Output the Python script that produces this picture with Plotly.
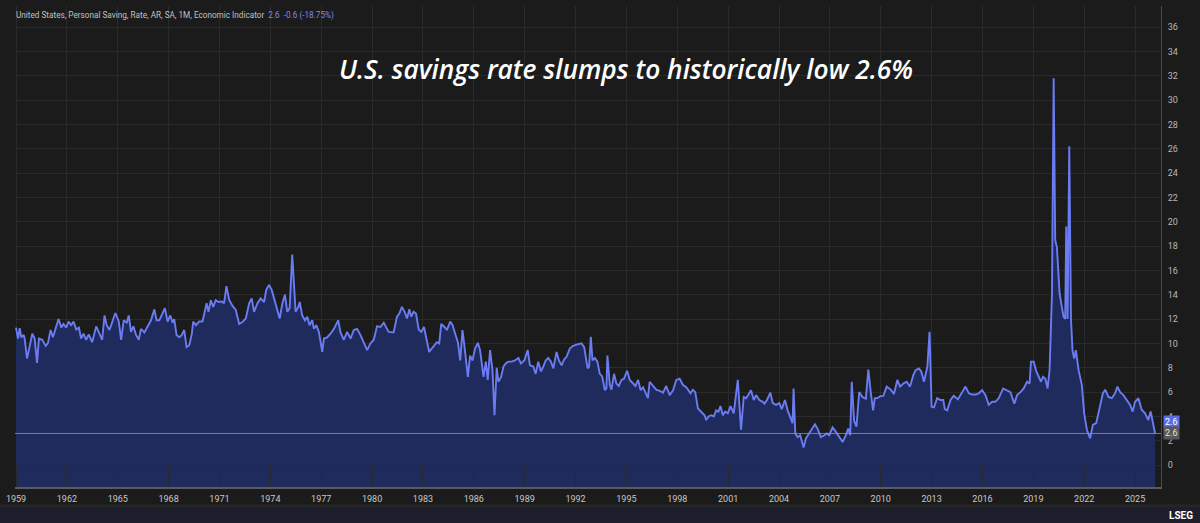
import plotly.graph_objects as go

# personal saving rate (decimal year, percent)
years = [
    1959.00, 1959.12, 1959.22, 1959.31, 1959.45, 1959.51, 1959.65, 1959.80, 1959.96, 1960.10,
    1960.24, 1960.35, 1960.55, 1960.75, 1960.88, 1961.04, 1961.18, 1961.33, 1961.51, 1961.67,
    1961.80, 1961.96, 1962.10, 1962.25, 1962.39, 1962.55, 1962.71, 1962.84, 1962.98, 1963.14,
    1963.29, 1963.49, 1963.73, 1963.92, 1964.08, 1964.22, 1964.35, 1964.51, 1964.71, 1964.86,
    1965.06, 1965.20, 1965.35, 1965.53, 1965.65, 1965.78, 1965.92, 1966.08, 1966.24, 1966.37,
    1966.57, 1966.76, 1966.96, 1967.16, 1967.29, 1967.45, 1967.61, 1967.78, 1967.94, 1968.10,
    1968.24, 1968.33, 1968.47, 1968.63, 1968.78, 1968.92, 1969.06, 1969.22, 1969.37, 1969.45,
    1969.61, 1969.80, 1970.00, 1970.24, 1970.35, 1970.49, 1970.63, 1970.78, 1970.94, 1971.14,
    1971.27, 1971.41, 1971.57, 1971.76, 1971.96, 1972.16, 1972.35, 1972.55, 1972.75, 1972.90,
    1973.04, 1973.24, 1973.43, 1973.63, 1973.76, 1973.92, 1974.08, 1974.22, 1974.41, 1974.55,
    1974.71, 1974.86, 1975.00, 1975.14, 1975.29, 1975.39, 1975.49, 1975.65, 1975.73, 1975.88,
    1976.04, 1976.18, 1976.31, 1976.47, 1976.57, 1976.71, 1976.86, 1977.06, 1977.16, 1977.35,
    1977.55, 1977.75, 1978.00, 1978.14, 1978.33, 1978.53, 1978.73, 1978.92, 1979.12, 1979.31,
    1979.51, 1979.71, 1979.90, 1980.10, 1980.29, 1980.49, 1980.69, 1980.98, 1981.27, 1981.47,
    1981.61, 1981.76, 1981.92, 1982.06, 1982.20, 1982.31, 1982.45, 1982.59, 1982.75, 1982.90,
    1983.06, 1983.24, 1983.37, 1983.53, 1983.69, 1983.82, 1983.96, 1984.08, 1984.27, 1984.41,
    1984.61, 1984.75, 1984.90, 1985.06, 1985.20, 1985.33, 1985.45, 1985.65, 1985.78, 1985.92,
    1986.08, 1986.24, 1986.37, 1986.57, 1986.71, 1986.82, 1986.96, 1987.10, 1987.22, 1987.35,
    1987.45, 1987.61, 1987.75, 1987.88, 1988.04, 1988.24, 1988.43, 1988.63, 1988.78, 1988.98,
    1989.18, 1989.31, 1989.51, 1989.65, 1989.80, 1989.96, 1990.10, 1990.24, 1990.39, 1990.55,
    1990.69, 1990.88, 1991.02, 1991.18, 1991.33, 1991.47, 1991.67, 1991.86, 1992.06, 1992.35,
    1992.51, 1992.71, 1992.80, 1992.90, 1993.00, 1993.14, 1993.29, 1993.43, 1993.57, 1993.73,
    1993.82, 1993.88, 1994.02, 1994.12, 1994.27, 1994.41, 1994.55, 1994.71, 1994.86, 1995.04,
    1995.20, 1995.35, 1995.53, 1995.69, 1995.84, 1995.98, 1996.12, 1996.27, 1996.37, 1996.57,
    1996.76, 1996.96, 1997.16, 1997.35, 1997.55, 1997.75, 1997.94, 1998.14, 1998.33, 1998.53,
    1998.78, 1998.92, 1999.06, 1999.22, 1999.41, 1999.61, 1999.71, 1999.84, 2000.00, 2000.16,
    2000.29, 2000.43, 2000.55, 2000.69, 2000.82, 2000.98, 2001.14, 2001.33, 2001.57, 2001.67,
    2001.76, 2001.92, 2002.06, 2002.20, 2002.35, 2002.51, 2002.65, 2002.84, 2003.04, 2003.14,
    2003.29, 2003.49, 2003.63, 2003.82, 2004.02, 2004.16, 2004.35, 2004.51, 2004.67, 2004.80,
    2004.86, 2004.96, 2005.10, 2005.25, 2005.33, 2005.45, 2005.59, 2005.78, 2005.98, 2006.12,
    2006.27, 2006.47, 2006.67, 2006.82, 2006.96, 2007.16, 2007.35, 2007.55, 2007.75, 2007.94,
    2008.08, 2008.20, 2008.29, 2008.43, 2008.57, 2008.73, 2008.92, 2009.12, 2009.27, 2009.41,
    2009.55, 2009.65, 2009.80, 2009.96, 2010.16, 2010.35, 2010.59, 2010.78, 2010.98, 2011.14,
    2011.33, 2011.53, 2011.73, 2011.92, 2012.06, 2012.25, 2012.39, 2012.55, 2012.75, 2012.88,
    2013.00, 2013.14, 2013.33, 2013.53, 2013.69, 2013.78, 2013.92, 2014.12, 2014.31, 2014.55,
    2014.71, 2015.00, 2015.20, 2015.39, 2015.59, 2015.78, 2015.98, 2016.18, 2016.37, 2016.57,
    2016.76, 2016.96, 2017.22, 2017.41, 2017.65, 2017.88, 2018.04, 2018.24, 2018.43, 2018.63,
    2018.78, 2018.86, 2019.02, 2019.18, 2019.31, 2019.45, 2019.57, 2019.71, 2019.84, 2019.96,
    2020.10, 2020.20, 2020.29, 2020.39, 2020.55, 2020.69, 2020.78, 2020.88, 2020.94, 2021.02,
    2021.12, 2021.22, 2021.31, 2021.41, 2021.51, 2021.67, 2021.86, 2022.00, 2022.16, 2022.35,
    2022.51, 2022.71, 2022.90, 2023.10, 2023.24, 2023.43, 2023.63, 2023.82, 2023.96, 2024.12,
    2024.31, 2024.51, 2024.71, 2024.86, 2025.00, 2025.20, 2025.39, 2025.59, 2025.78, 2025.92,
    2026.04, 2026.18,
]
rate = [
    11.3, 10.4, 11.25, 10.5, 10.7, 10.4, 8.75, 9.7, 10.8, 10.4,
    8.4, 10.4, 10.3, 9.8, 10.0, 11.1, 10.5, 11.2, 12.0, 11.3,
    11.6, 11.3, 11.8, 11.5, 11.8, 11.15, 11.3, 10.4, 10.8, 10.3,
    10.75, 10.1, 11.4, 10.8, 10.3, 12.3, 11.5, 11.1, 11.9, 12.5,
    11.8, 10.3, 11.9, 11.7, 12.3, 10.95, 11.4, 10.7, 10.3, 11.2,
    10.9, 11.4, 11.9, 12.8, 11.9, 11.9, 12.4, 12.9, 11.8, 12.3,
    11.7, 12.0, 10.7, 10.5, 10.7, 11.1, 9.7, 9.85, 10.8, 11.8,
    11.5, 11.8, 11.8, 13.3, 12.6, 13.55, 13.0, 13.55, 13.4, 13.45,
    13.3, 14.7, 13.6, 13.1, 12.75, 11.6, 11.75, 12.05, 13.3, 13.7,
    12.6, 13.3, 13.7, 13.4, 14.4, 14.8, 14.4, 13.7, 12.9, 12.05,
    13.3, 14.0, 12.6, 12.9, 17.3, 14.3, 12.6, 13.0, 13.4, 12.3,
    11.9, 12.2, 11.5, 11.9, 11.2, 11.5, 10.95, 9.3, 10.4, 10.5,
    10.8, 11.2, 11.9, 10.9, 10.3, 10.95, 10.4, 11.1, 11.2, 10.7,
    10.0, 9.45, 10.0, 10.3, 11.4, 11.35, 11.7, 10.95, 10.9, 12.2,
    12.45, 13.0, 12.6, 12.05, 12.8, 12.2, 12.6, 12.45, 11.15, 10.95,
    11.35, 10.3, 9.3, 9.6, 9.85, 10.1, 10.0, 11.6, 11.35, 11.1,
    11.8, 11.5, 10.8, 10.1, 8.6, 11.1, 9.75, 7.25, 9.0, 8.6,
    9.6, 10.05, 9.45, 7.25, 8.5, 7.0, 9.45, 7.8, 4.1, 8.0,
    6.85, 7.25, 8.1, 8.35, 8.5, 8.5, 8.6, 8.8, 8.35, 8.6,
    9.45, 8.2, 8.1, 7.5, 8.5, 7.7, 8.1, 8.6, 8.8, 8.5,
    7.95, 9.3, 8.6, 8.2, 8.7, 8.9, 9.6, 9.8, 9.9, 10.0,
    9.7, 7.95, 8.1, 10.55, 8.6, 8.8, 8.5, 7.5, 7.3, 6.15,
    6.3, 9.0, 6.6, 6.2, 7.5, 6.7, 6.5, 7.0, 7.1, 7.75,
    7.0, 6.8, 6.5, 7.0, 6.15, 6.4, 6.0, 5.5, 6.85, 6.5,
    6.2, 6.1, 5.95, 6.5, 5.75, 6.15, 7.0, 7.1, 6.6, 6.4,
    5.9, 6.2, 6.0, 4.65, 4.4, 4.1, 3.7, 4.0, 4.1, 4.0,
    4.5, 4.4, 4.85, 4.1, 4.4, 4.25, 4.85, 4.25, 7.0, 4.5,
    2.9, 5.6, 5.5, 5.8, 6.15, 5.35, 5.75, 5.35, 5.2, 5.05,
    5.35, 5.95, 5.1, 4.95, 5.1, 4.6, 5.35, 4.5, 4.0, 3.45,
    6.3, 2.6, 2.3, 2.45, 2.05, 1.45, 2.2, 2.6, 3.0, 3.35,
    3.0, 2.3, 2.45, 2.6, 2.45, 3.1, 2.75, 2.3, 1.9, 2.45,
    3.0, 2.45, 6.85, 3.65, 3.15, 6.0, 5.6, 5.45, 7.85, 6.0,
    4.5, 5.5, 5.5, 5.65, 5.7, 6.45, 6.2, 5.85, 7.0, 6.45,
    6.7, 6.85, 6.45, 7.4, 7.8, 7.95, 7.7, 6.85, 8.1, 10.95,
    4.8, 4.75, 5.5, 5.35, 5.35, 4.6, 4.5, 5.35, 5.7, 5.4,
    5.8, 6.45, 5.9, 5.8, 5.8, 5.9, 6.15, 5.75, 4.95, 5.2,
    5.2, 5.5, 6.3, 6.15, 6.0, 5.05, 5.75, 6.0, 6.3, 6.85,
    6.7, 8.5, 8.5, 7.7, 7.25, 6.85, 7.25, 7.1, 6.3, 7.8,
    14.1, 31.8, 18.5, 17.9, 14.1, 13.0, 12.2, 12.0, 19.6, 12.0,
    26.2, 12.0, 9.45, 8.75, 9.45, 7.8, 6.6, 4.25, 2.9, 2.2,
    3.3, 3.45, 4.55, 5.9, 6.2, 5.6, 5.5, 5.9, 6.45, 6.0,
    5.75, 5.3, 4.95, 4.4, 5.2, 5.5, 4.55, 4.25, 3.7, 4.4,
    3.45, 2.6,
]

x_ticks = list(range(1959, 2026, 3))
y_ticks = list(range(0, 37, 2))
last = rate[-1]
change = -0.6
change_pct = -18.75

title = "U.S. savings rate slumps to historically low 2.6%"
header = "United States, Personal Saving, Rate, AR, SA, 1M, Economic Indicator"

BG = "#1b1b1b"
GRID = "#2a2a2a"
LINE = "#6b7cf2"
FILL = "#1f2b5c"
y_lo, y_hi = -1.8, 37.73

fig = go.Figure()
fig.add_trace(go.Scatter(
    x=years, y=rate, mode="lines",
    line=dict(color=LINE, width=1.9),
    fill="tozeroy", fillcolor=FILL,
    hoverinfo="skip", showlegend=False,
))

# fill continues below zero down to the axis
fig.add_shape(type="rect", xref="x", yref="y", x0=years[0], x1=years[-1],
              y0=y_lo, y1=0, fillcolor=FILL, line_width=0, layer="below")

# last value line
fig.add_hline(y=last, line=dict(color="#8f95ad", width=1), opacity=0.8)

# bottom status bar
fig.add_shape(type="rect", xref="paper", yref="paper", x0=-0.02, x1=1.04,
              y0=-0.1, y1=-0.036, fillcolor="#262626", line_width=0, layer="below")
fig.add_shape(type="rect", xref="paper", yref="paper", x0=-0.02, x1=1.04,
              y0=-0.1, y1=-0.042, fillcolor="#1d1e2b", line_width=0, layer="below")

fig.update_layout(
    width=1200, height=523,
    paper_bgcolor=BG, plot_bgcolor=BG,
    margin=dict(l=12, r=39, t=6, b=36),
    font=dict(family="Roboto, Liberation Sans, sans-serif", color="#c4c4c4", size=9),
    xaxis=dict(
        range=[1958.94, 2026.53], tickvals=x_ticks, ticktext=[str(t) for t in x_ticks],
        showgrid=True, gridcolor=GRID, gridwidth=1, zeroline=False,
        showline=True, linecolor="#5a5a5a", linewidth=1.5,
        ticks="", ticklabelstandoff=2, tickfont=dict(size=9, color="#c8c8c8"),
    ),
    yaxis=dict(
        range=[y_lo, y_hi], tickvals=y_ticks, side="right",
        showgrid=True, gridcolor=GRID, gridwidth=1, zeroline=False,
        showline=True, linecolor="#4a4a4a", linewidth=1,
        ticks="", ticklabelstandoff=4, tickfont=dict(size=9, color="#b8b8b8"),
    ),
)

fig.add_annotation(
    text=title, xref="paper", yref="paper", x=0.5335, y=0.87,
    showarrow=False, xanchor="center", yanchor="middle",
    font=dict(family="Open Sans, Lato, sans-serif", size=26.3, color="#ffffff",
              style="italic", weight=600),
)
fig.add_annotation(
    text=header + "  <span style='color:#8088ee'>" + f"{last}  {change} ({change_pct}%)" + "</span>",
    xref="paper", yref="paper", x=-0.001, y=0.981,
    showarrow=False, xanchor="left", yanchor="middle",
    font=dict(family="Roboto, sans-serif", size=8.2, color="#c0c0c0"),
)

# price badges on the right axis
fig.add_annotation(
    text=f"{last}", xref="paper", yref="y", x=1.002, y=last, yshift=11,
    showarrow=False, xanchor="left", yanchor="middle",
    bgcolor="#5a6de6", borderpad=1, font=dict(size=9, color="#ffffff"),
)
fig.add_annotation(
    text=f"{last}", xref="paper", yref="y", x=1.002, y=last,
    showarrow=False, xanchor="left", yanchor="middle",
    bgcolor="#595959", borderpad=1, font=dict(size=9, color="#e0e0e0"),
)

fig.add_annotation(
    text="<b>LSEG</b>", xref="paper", yref="paper", x=1.03, y=-0.06,
    showarrow=False, xanchor="right", yanchor="middle",
    font=dict(family="Roboto, sans-serif", size=10, color="#ffffff"),
)

fig.write_html("out.html", config={"displayModeBar": False},
               post_script="document.body.style.margin='0';")
